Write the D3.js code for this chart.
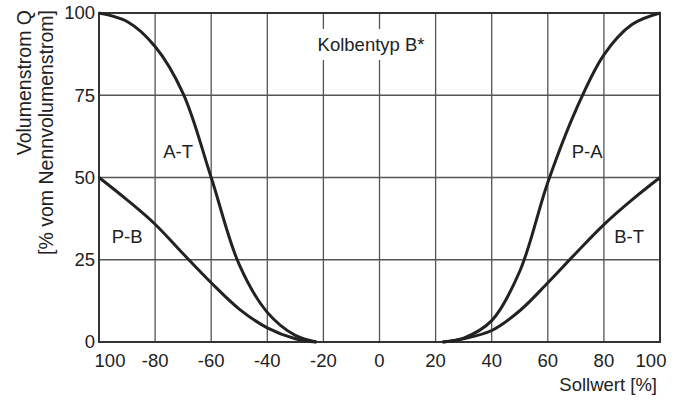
<!DOCTYPE html>
<html>
<head>
<meta charset="utf-8">
<script src="https://cdn.jsdelivr.net/npm/d3@7"></script>
<style>
  body { margin: 0; background: #fff; }
  text { font-family: "Liberation Sans", Arial, Helvetica, sans-serif; fill: #222; }
</style>
</head>
<body>
<svg></svg>
<script>
const svgWidth = 682,
  svgHeight = 401,
  margin = {top: 13, right: 22, bottom: 59, left: 99},
  lineColor = '#222',
  gridColor = '#555',
  fontSize = 18.5

// data
const xTicks = [-100, -80, -60, -40, -20, 0, 20, 40, 60, 80, 100]
const yTicks = [0, 25, 50, 75, 100]
const leftSollwert = [-100, -90, -80, -70, -60, -50, -40, -30, -22.5]
const seriesAT = [100, 97.4, 89.8, 75.5, 50, 23.5, 9, 2, 0]
const seriesPB = [50, 43.2, 35.8, 26.8, 18, 10, 4.3, 1, 0]
const rightSollwert = [22.5, 30, 40, 50, 60, 70, 80, 90, 100]
const seriesPA = [0, 1.2, 6.5, 21.5, 48.5, 70.5, 87.3, 96.5, 100]
const seriesBT = [0, 1, 3.5, 9.5, 18, 27, 35.7, 43.2, 50]
const curveLabels = [
  {name: 'A-T', x: -71.8, y: 56},
  {name: 'P-B', x: -90, y: 30},
  {name: 'P-A', x: 74, y: 56},
  {name: 'B-T', x: 89, y: 30}
]

const width = svgWidth - margin.left - margin.right,
  height = svgHeight - margin.top - margin.bottom

const svg = d3.select('svg')
  .attr('width', svgWidth)
  .attr('height', svgHeight)

const x = d3.scaleLinear().domain([-100, 100]).range([0, width])
const y = d3.scaleLinear().domain([0, 100]).range([height, 0])

const g = svg.append('g')
  .attr('transform', `translate(${margin.left},${margin.top})`)

// grid
g.append('g').selectAll('line')
  .data(xTicks)
  .join('line')
  .attr('x1', d => x(d)).attr('x2', d => x(d))
  .attr('y1', 0).attr('y2', height)
  .attr('stroke', gridColor)
  .attr('stroke-width', 1.3)

g.append('g').selectAll('line')
  .data(yTicks)
  .join('line')
  .attr('x1', 0).attr('x2', width)
  .attr('y1', d => y(d)).attr('y2', d => y(d))
  .attr('stroke', gridColor)
  .attr('stroke-width', 1.3)

// frame
g.append('rect')
  .attr('width', width).attr('height', height)
  .attr('fill', 'none')
  .attr('stroke', '#333')
  .attr('stroke-width', 2)

// title box
const title = g.append('text')
  .attr('x', x(-3))
  .attr('y', 38)
  .attr('text-anchor', 'middle')
  .style('font-size', fontSize + 'px')
  .text('Kolbentyp B*')
const bb = title.node().getBBox()
g.insert('rect', 'text')
  .attr('x', bb.x - 3).attr('y', bb.y - 5)
  .attr('width', bb.width + 6).attr('height', bb.height + 10)
  .attr('fill', '#fff')

// axes labels
const xAxis = g.append('g').attr('transform', `translate(0,${height})`)
xAxis.selectAll('text')
  .data(xTicks)
  .join('text')
  .attr('x', d => x(d) + (d === -100 ? 11 : d === 100 ? -9 : 0))
  .attr('y', 25)
  .attr('text-anchor', 'middle')
  .style('font-size', fontSize + 'px')
  .text(d => Math.abs(d) === 100 ? '100' : d)

g.append('g').selectAll('text')
  .data(yTicks)
  .join('text')
  .attr('x', -4)
  .attr('y', d => y(d))
  .attr('dy', '0.35em')
  .attr('text-anchor', 'end')
  .style('font-size', fontSize + 'px')
  .text(d => d)

svg.append('text')
  .attr('x', 657).attr('y', 391)
  .attr('text-anchor', 'end')
  .style('font-size', fontSize + 'px')
  .text('Sollwert [%]')

const yTitle = svg.append('g').attr('transform', 'translate(0,10) rotate(-90)')
yTitle.append('text')
  .attr('x', 0).attr('y', 31)
  .attr('text-anchor', 'end')
  .style('font-size', '19.5px')
  .text('Volumenstrom Q')
yTitle.append('text')
  .attr('x', 0).attr('y', 53)
  .attr('text-anchor', 'end')
  .style('font-size', '19.5px')
  .text('[% vom Nennvolumenstrom]')

// curves
const line = d3.line()
  .x(d => x(d[0]))
  .y(d => y(Math.max(0, d[1])))
  .curve(d3.curveCatmullRom.alpha(0.5))

const curves = [
  d3.zip(leftSollwert, seriesAT),
  d3.zip(leftSollwert, seriesPB),
  d3.zip(rightSollwert, seriesPA),
  d3.zip(rightSollwert, seriesBT)
]

g.append('g').selectAll('path')
  .data(curves)
  .join('path')
  .attr('d', line)
  .attr('fill', 'none')
  .attr('stroke', lineColor)
  .attr('stroke-width', 3)

g.append('g').selectAll('text')
  .data(curveLabels)
  .join('text')
  .attr('x', d => x(d.x))
  .attr('y', d => y(d.y))
  .attr('text-anchor', 'middle')
  .style('font-size', fontSize + 'px')
  .text(d => d.name)
</script>
</body>
</html>
